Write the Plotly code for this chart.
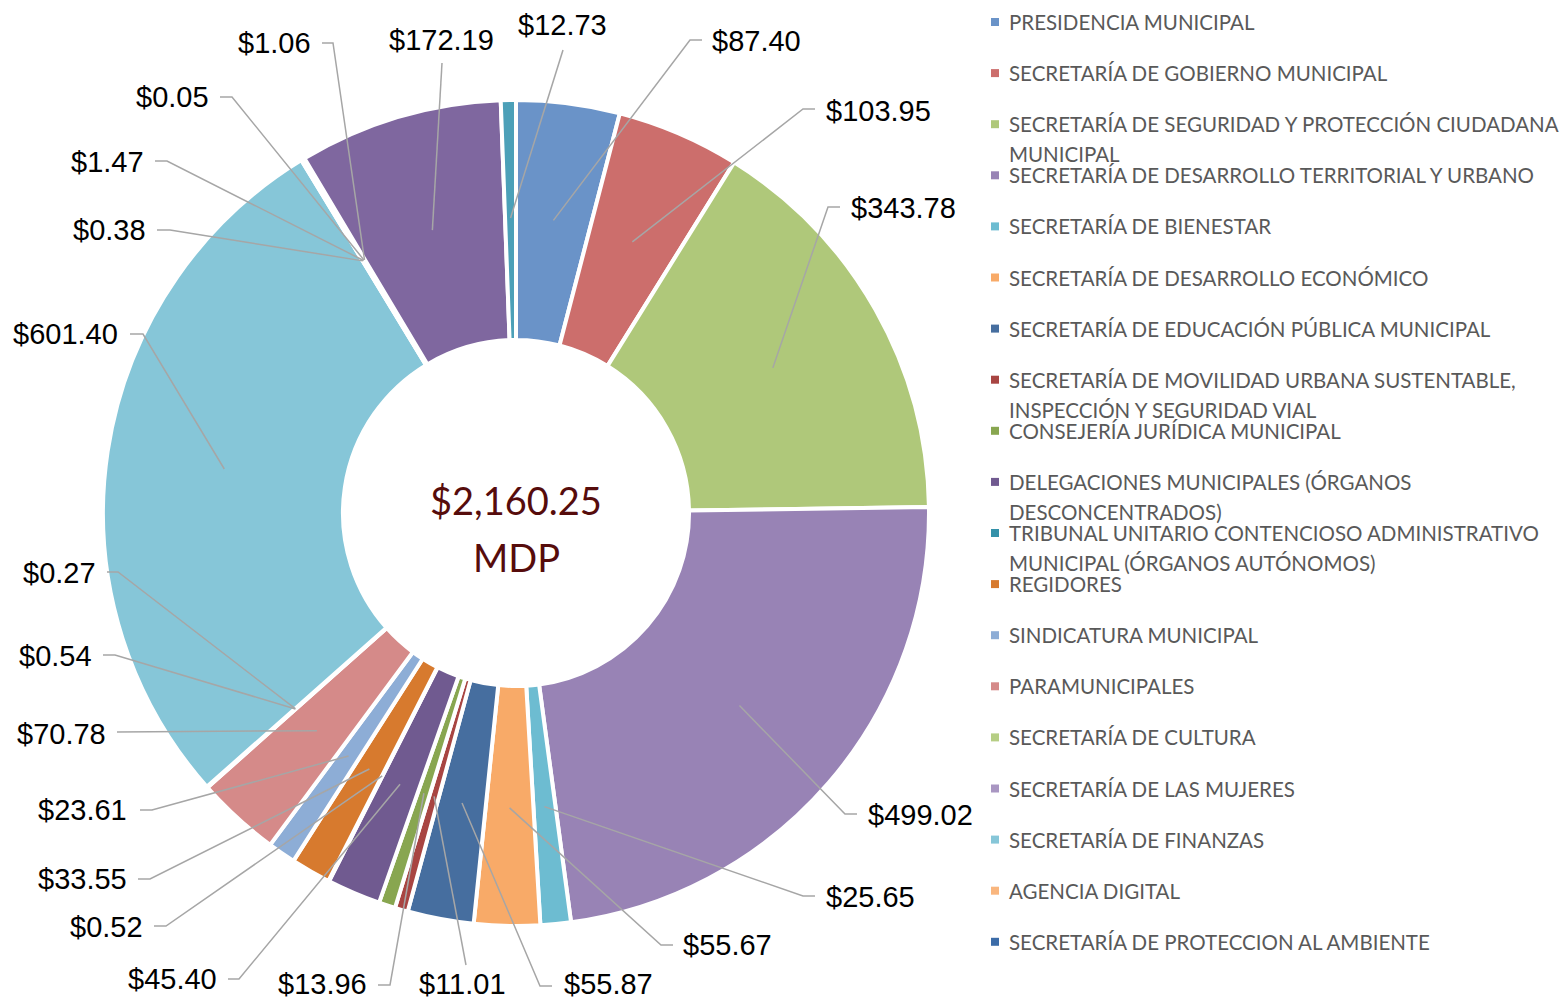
import math
import textwrap
import plotly.graph_objects as go

# ---------------- data ----------------
CATEGORIES = [
    "PRESIDENCIA MUNICIPAL",
    "SECRETARÍA DE GOBIERNO MUNICIPAL",
    "SECRETARÍA DE SEGURIDAD Y PROTECCIÓN CIUDADANA MUNICIPAL",
    "SECRETARÍA DE DESARROLLO TERRITORIAL Y URBANO",
    "SECRETARÍA DE BIENESTAR",
    "SECRETARÍA DE DESARROLLO ECONÓMICO",
    "SECRETARÍA DE EDUCACIÓN PÚBLICA MUNICIPAL",
    "SECRETARÍA DE MOVILIDAD URBANA SUSTENTABLE, INSPECCIÓN Y SEGURIDAD VIAL",
    "CONSEJERÍA JURÍDICA MUNICIPAL",
    "DELEGACIONES MUNICIPALES (ÓRGANOS DESCONCENTRADOS)",
    "TRIBUNAL UNITARIO CONTENCIOSO ADMINISTRATIVO MUNICIPAL (ÓRGANOS AUTÓNOMOS)",
    "REGIDORES",
    "SINDICATURA MUNICIPAL",
    "PARAMUNICIPALES",
    "SECRETARÍA DE CULTURA",
    "SECRETARÍA DE LAS MUJERES",
    "SECRETARÍA DE FINANZAS",
    "AGENCIA DIGITAL",
    "SECRETARÍA DE PROTECCION AL AMBIENTE",
    "SERIE 20",
    "SERIE 21",
    "SERIE 22",
    "SERIE 23",
]
VALUES = [87.40, 103.95, 343.78, 499.02, 25.65, 55.67, 55.87, 11.01, 13.96,
          45.40, 0.52, 33.55, 23.61, 70.78, 0.54, 0.27, 601.40, 0.38, 1.47,
          0.05, 1.06, 172.19, 12.73]
LEGEND_COUNT = 19          # legend in the reference shows only the first 19 entries
CENTER_TOTAL = "$2,160.25"
CENTER_UNIT = "MDP"

# ---------------- styles ----------------
COLORS = [
    "#6A93C8", "#CC6E6C", "#AFC87A", "#9883B5", "#6DBCD1", "#F8AA68",
    "#466E9F", "#A84542", "#88A650", "#705A90", "#3491A9", "#D77A2E",
    "#8DADD6", "#D58A89", "#B6CE84", "#A996C2", "#86C6D8", "#F9B67E",
    "#3C6CA8", "#C0504D", "#9BBB59", "#7F679F", "#4CA0B8",
]
W, H = 1568, 1001
CX, CY, R_OUT, HOLE = 516, 513, 413, 0.419
R_ANCHOR = 295
LABEL_FONT = dict(family="Liberation Sans, Arial, sans-serif", size=29, color="#000000")
LEGEND_FONT = dict(family="Lato, Noto Sans, sans-serif", size=20.5, color="#595959")
CENTER_FONT = dict(family="Lato, Noto Sans, sans-serif", size=38, color="#560C0C")
LEADER_COLOR = "#A6A6A6"

# label placement (pixel layout): anchor mode, text x, text y, elbow points
LABEL_LAYOUT = [
    ("L", 711, 41, [(690, 40), (702, 40)]),
    ("L", 825, 111, [(803, 109), (815, 109)]),
    ("L", 850, 208, [(828, 207), (840, 207)]),
    ("L", 867, 815, [(845, 814), (857, 814)]),
    ("L", 825, 897, [(803, 896), (815, 896)]),
    ("L", 682, 945, [(661, 945), (673, 945)]),
    ("L", 563, 984, [(540, 986), (552, 986)]),
    ("C", 463, 984, [(466, 965)]),
    ("R", 368, 984, [(390, 985), (378, 985)]),
    ("R", 218, 979, [(239, 979), (228, 979)]),
    ("R", 144, 927, [(166, 926), (154, 926)]),
    ("R", 128, 879, [(150, 879), (138, 879)]),
    ("R", 128, 810, [(152, 810), (140, 810)]),
    ("R", 107, 734, [(117, 732)]),
    ("R", 93, 656, [(115, 655), (103, 655)]),
    ("R", 97, 573, [(118, 572), (107, 572)]),
    ("R", 119, 334, [(143, 334), (130, 334)]),
    ("R", 147, 230, [(170, 230), (157, 230)]),
    ("R", 145, 162, [(167, 161), (155, 161)]),
    ("R", 210, 97, [(232, 97), (220, 97)]),
    ("R", 312, 43, [(333, 43), (322, 43)]),
    ("C", 441, 40, [(442, 63)]),
    ("C", 562, 25, [(563, 50)]),
]
LEGEND_X_SQ, LEGEND_X_TXT, LEGEND_Y0, LEGEND_DY, LEGEND_LH, LEGEND_WRAP = 995, 1008, 22, 51.1, 30, 46


def px(x):
    return x / W


def py(y):
    return 1 - y / H


fig = go.Figure()

fig.add_trace(go.Pie(
    labels=CATEGORIES,
    values=VALUES,
    hole=HOLE,
    sort=False,
    direction="clockwise",
    rotation=0,
    marker=dict(colors=COLORS, line=dict(color="white", width=4)),
    textinfo="none",
    textposition="none",
    showlegend=False,
    hoverinfo="label+value",
    domain=dict(x=[px(CX - R_OUT), px(CX + R_OUT)],
                y=[py(CY + R_OUT), py(CY - R_OUT)]),
))

shapes = []
annotations = []
total = sum(VALUES)
cum = 0.0
for i, v in enumerate(VALUES):
    theta = 2 * math.pi * (cum + v / 2) / total
    cum += v
    ax = CX + R_ANCHOR * math.sin(theta)
    ay = CY - R_ANCHOR * math.cos(theta)
    mode, tx, ty, elbows = LABEL_LAYOUT[i]
    pts = [(ax, ay)] + elbows
    path = "M " + " L ".join(f"{px(x):.6f},{py(y):.6f}" for x, y in pts)
    shapes.append(dict(type="path", path=path, xref="paper", yref="paper",
                       line=dict(color=LEADER_COLOR, width=1.5), layer="above"))
    xanchor = {"L": "left", "R": "right", "C": "center"}[mode]
    annotations.append(dict(
        x=px(tx), y=py(ty), xref="paper", yref="paper",
        text=f"${v:,.2f}", showarrow=False, xanchor=xanchor, yanchor="middle",
        font=LABEL_FONT, borderpad=0,
    ))

# center text
annotations.append(dict(x=px(CX), y=py(500), xref="paper", yref="paper", text=CENTER_TOTAL,
                        showarrow=False, xanchor="center", yanchor="middle", font=CENTER_FONT))
annotations.append(dict(x=px(CX), y=py(557), xref="paper", yref="paper", text=CENTER_UNIT,
                        showarrow=False, xanchor="center", yanchor="middle", font=CENTER_FONT))

# legend (first LEGEND_COUNT categories, as in the reference)
for i in range(LEGEND_COUNT):
    yc = LEGEND_Y0 + LEGEND_DY * i
    shapes.append(dict(type="rect", xref="paper", yref="paper",
                       x0=px(LEGEND_X_SQ - 4), x1=px(LEGEND_X_SQ + 4),
                       y0=py(yc + 4), y1=py(yc - 4),
                       fillcolor=COLORS[i], line=dict(width=0), layer="above"))
    for k, line in enumerate(textwrap.wrap(CATEGORIES[i], LEGEND_WRAP)):
        annotations.append(dict(
            x=px(LEGEND_X_TXT), y=py(yc + k * LEGEND_LH), xref="paper", yref="paper",
            text=line, showarrow=False, xanchor="left", yanchor="middle",
            font=LEGEND_FONT, borderpad=0,
        ))

fig.update_layout(
    width=W, height=H,
    margin=dict(l=0, r=0, t=0, b=0),
    paper_bgcolor="white", plot_bgcolor="white",
    shapes=shapes, annotations=annotations,
    showlegend=False,
)

fig.write_html("out.html",
               config={"displayModeBar": False},
               post_script="document.body.style.margin='0px';document.body.style.overflow='hidden';")
